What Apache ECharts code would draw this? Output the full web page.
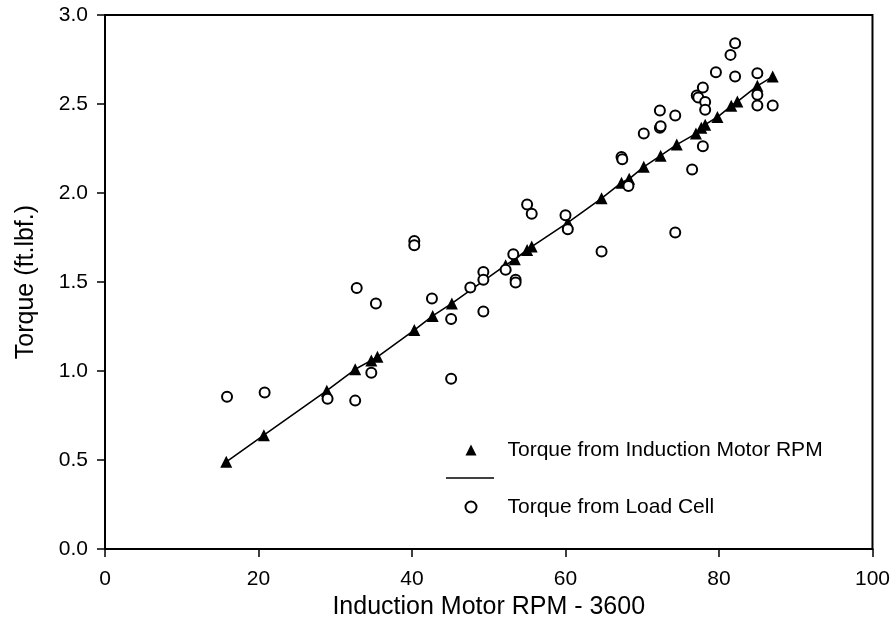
<!DOCTYPE html>
<html>
<head>
<meta charset="utf-8">
<script src="https://cdn.jsdelivr.net/npm/echarts@6/dist/echarts.min.js"></script>
<style>
html,body{margin:0;padding:0;background:#fff;}
#chart{width:893px;height:625px;}
</style>
</head>
<body>
<div id="chart"></div>
<script>
// Torque from Induction Motor RPM (triangles + fitted line)
var motorRpm = [15.8, 20.7, 28.9, 32.6, 34.7, 35.5, 40.3, 42.7, 45.2, 52.2, 53.4, 55.0, 55.6, 60.3, 64.7, 67.3, 68.3, 70.2, 72.4, 74.5, 77.0, 77.7, 78.2, 79.8, 81.6, 82.4, 85.0, 87.0];
var motorTorque = [0.49, 0.64, 0.89, 1.01, 1.06, 1.08, 1.23, 1.31, 1.38, 1.595, 1.628, 1.68, 1.699, 1.834, 1.97, 2.058, 2.08, 2.147, 2.21, 2.272, 2.334, 2.366, 2.384, 2.427, 2.49, 2.514, 2.602, 2.654];

// Torque from Load Cell (open circles)
var cellRpm = [15.9, 20.8, 29.0, 32.6, 32.8, 34.7, 35.3, 40.3, 40.3, 42.6, 45.1, 45.1, 47.6, 49.3, 49.3, 49.3, 52.2, 53.2, 53.5, 53.5, 55.0, 55.6, 60.0, 60.3, 64.7, 67.3, 67.4, 68.2, 70.2, 72.3, 72.3, 72.4, 74.3, 74.3, 76.5, 77.1, 77.3, 77.9, 77.9, 78.2, 78.2, 79.6, 81.5, 82.1, 82.1, 85.0, 85.0, 85.0, 87.0];
var cellTorque = [0.856, 0.879, 0.845, 0.834, 1.466, 0.99, 1.38, 1.731, 1.707, 1.408, 1.293, 0.957, 1.47, 1.557, 1.513, 1.334, 1.569, 1.656, 1.513, 1.498, 1.936, 1.884, 1.875, 1.796, 1.672, 2.203, 2.19, 2.04, 2.334, 2.464, 2.366, 2.375, 2.436, 1.778, 2.132, 2.548, 2.537, 2.593, 2.263, 2.511, 2.468, 2.679, 2.776, 2.841, 2.654, 2.673, 2.552, 2.492, 2.492];

var xTicks = [0, 20, 40, 60, 80, 100];
var yTicks = [0.0, 0.5, 1.0, 1.5, 2.0, 2.5, 3.0];

var nameMotor = 'Torque from Induction Motor RPM';
var nameLine = '\u200b';
var nameCell = 'Torque from Load Cell';

function zip(a, b) { return a.map(function (v, i) { return [v, b[i]]; }); }

var FONT = '"Liberation Sans", Arial, sans-serif';
var chart = echarts.init(document.getElementById('chart'), null, {renderer: 'canvas'});
chart.setOption({
  animation: false,
  backgroundColor: '#fff',
  grid: {left: 105, right: 20, top: 15, bottom: 74, show: true, borderColor: '#000', borderWidth: 2, backgroundColor: 'transparent'},
  xAxis: {
    type: 'value', min: xTicks[0], max: xTicks[xTicks.length - 1], interval: 20,
    name: 'Induction Motor RPM - 3600', nameLocation: 'middle', nameGap: 42,
    nameTextStyle: {fontFamily: FONT, fontSize: 25, color: '#000'},
    axisLine: {lineStyle: {color: '#000', width: 2}},
    axisTick: {show: true, inside: false, length: 8, lineStyle: {color: '#000', width: 1.5}},
    axisLabel: {fontFamily: FONT, fontSize: 21, color: '#000', margin: 20},
    splitLine: {show: false}
  },
  yAxis: {
    type: 'value', min: yTicks[0], max: yTicks[yTicks.length - 1], interval: 0.5,
    name: 'Torque (ft.lbf.)', nameLocation: 'middle', nameGap: 66,
    nameTextStyle: {fontFamily: FONT, fontSize: 25, color: '#000'},
    axisLine: {show: true, lineStyle: {color: '#000', width: 2}},
    axisTick: {show: true, inside: false, length: 8, lineStyle: {color: '#000', width: 1.5}},
    axisLabel: {fontFamily: FONT, fontSize: 21, color: '#000', margin: 17, formatter: function (v) { return v.toFixed(1); }},
    splitLine: {show: false}
  },
  legend: [
    {
      orient: 'vertical', left: 464.5, top: 439.5, padding: 0, itemWidth: 11, itemHeight: 11, itemGap: 36,
      selectedMode: false,
      textStyle: {fontFamily: FONT, fontSize: 21, color: '#000', padding: [0, 0, 0, 26]},
      data: [
        {name: nameMotor, icon: 'triangle', itemStyle: {color: '#000', opacity: 1}},
        {name: nameCell, icon: 'emptyCircle', itemStyle: {color: '#000', borderColor: '#000', borderWidth: 1.8, opacity: 1}}
      ]
    },
    {
      orient: 'vertical', left: 446, top: 467.5, padding: 0, itemWidth: 48, itemHeight: 1.6,
      selectedMode: false,
      textStyle: {fontFamily: FONT, fontSize: 21, color: '#000'},
      data: [{name: nameLine, icon: 'rect', itemStyle: {color: '#000', opacity: 1}}]
    }
  ],
  series: [
    {
      name: nameLine, type: 'line', data: zip(motorRpm, motorTorque),
      symbol: 'none', showSymbol: false, lineStyle: {color: '#000', width: 1.6}, itemStyle: {color: '#000'}, z: 2
    },
    {
      name: nameMotor, type: 'scatter', data: zip(motorRpm, motorTorque),
      symbol: 'triangle', symbolSize: 12, itemStyle: {color: '#000', opacity: 1}, z: 3
    },
    {
      name: nameCell, type: 'scatter', data: zip(cellRpm, cellTorque),
      symbol: 'emptyCircle', symbolSize: 10, itemStyle: {color: '#000', borderColor: '#000', borderWidth: 1.8, opacity: 1}, z: 4
    }
  ]
});
</script>
</body>
</html>
